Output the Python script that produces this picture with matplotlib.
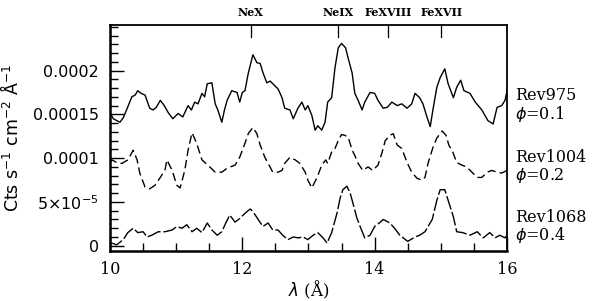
import matplotlib
matplotlib.use("Agg")
import matplotlib.pyplot as plt
from matplotlib.ticker import FixedLocator, FixedFormatter, MultipleLocator

# Rev975 (solid), units of 1e-4
rev975_x = [10.0, 10.05, 10.1, 10.15, 10.2, 10.25, 10.33, 10.38, 10.42, 10.47, 10.53, 10.6, 10.65, 10.7, 10.76,
            10.82, 10.88, 10.95, 11.03, 11.1, 11.18, 11.23, 11.28, 11.33, 11.39, 11.43, 11.47, 11.54, 11.59, 11.63,
            11.69, 11.73, 11.77, 11.84, 11.92, 11.96, 12.0, 12.04, 12.09, 12.16, 12.22, 12.27, 12.31, 12.37,
            12.42, 12.46, 12.54, 12.6, 12.64, 12.72, 12.77, 12.84, 12.9, 12.95, 12.99, 13.05, 13.1, 13.14,
            13.2, 13.25, 13.29, 13.35, 13.4, 13.45, 13.5, 13.56, 13.6, 13.66, 13.7, 13.75, 13.81, 13.85,
            13.93, 14.0, 14.05, 14.13, 14.19, 14.26, 14.34, 14.41, 14.49, 14.56, 14.61, 14.68, 14.73,
            14.79, 14.84, 14.88, 14.94, 14.99, 15.06, 15.11, 15.19, 15.24, 15.3, 15.35, 15.44, 15.52,
            15.62, 15.71, 15.79, 15.85, 15.92, 15.97, 16.0]
rev975_y = [1.52, 1.45, 1.43, 1.41, 1.46, 1.55, 1.70, 1.72, 1.77, 1.74, 1.72, 1.57, 1.55, 1.58, 1.66,
            1.60, 1.52, 1.45, 1.51, 1.47, 1.60, 1.55, 1.64, 1.62, 1.74, 1.70, 1.85, 1.86, 1.62, 1.55,
            1.41, 1.55, 1.66, 1.77, 1.75, 1.64, 1.75, 1.77, 1.97, 2.18, 2.09, 2.08, 1.98, 1.86,
            1.88, 1.85, 1.79, 1.69, 1.57, 1.55, 1.45, 1.57, 1.64, 1.55, 1.60, 1.49, 1.32, 1.37,
            1.32, 1.41, 1.64, 1.69, 2.03, 2.26, 2.31, 2.26, 2.14, 1.97, 1.74, 1.66, 1.55, 1.64,
            1.75, 1.74, 1.66, 1.57, 1.58, 1.64, 1.60, 1.62, 1.57, 1.62, 1.74, 1.69, 1.62,
            1.47, 1.36, 1.55, 1.81, 1.92, 2.02, 1.85, 1.69, 1.81, 1.89, 1.77, 1.74, 1.64,
            1.55, 1.43, 1.39, 1.58, 1.60, 1.66, 1.77]

# Rev1004 (dashed), units of 1e-4
rev1004_x = [10.0, 10.03, 10.1, 10.18, 10.27, 10.35, 10.41, 10.45, 10.53, 10.6, 10.68, 10.76, 10.83, 10.86,
             10.94, 11.01, 11.06, 11.13, 11.18, 11.24, 11.31, 11.39, 11.48, 11.59, 11.69, 11.78, 11.89,
             11.96, 12.04, 12.09, 12.16, 12.22, 12.27, 12.34, 12.39, 12.46, 12.54, 12.6, 12.64, 12.72,
             12.8, 12.87, 12.95, 12.99, 13.05, 13.13, 13.2, 13.26, 13.29, 13.35, 13.4, 13.45, 13.5,
             13.55, 13.6, 13.66, 13.7, 13.75, 13.82, 13.9, 13.97, 14.05, 14.11, 14.16, 14.23, 14.28,
             14.34, 14.41, 14.49, 14.56, 14.64, 14.71, 14.76, 14.81, 14.88, 14.94, 15.02, 15.08,
             15.12, 15.18, 15.24, 15.32, 15.39, 15.47, 15.55, 15.62, 15.7, 15.77, 15.85, 15.92, 16.0]
rev1004_y = [0.95, 0.98, 0.95, 0.94, 0.98, 1.09, 0.98, 0.83, 0.67, 0.65, 0.69, 0.78, 0.86, 0.98,
             0.86, 0.69, 0.66, 0.86, 1.09, 1.29, 1.17, 0.98, 0.92, 0.84, 0.84, 0.89, 0.92,
             1.01, 1.17, 1.28, 1.35, 1.28, 1.15, 1.01, 0.94, 0.84, 0.84, 0.86, 0.94, 1.01,
             0.98, 0.94, 0.84, 0.75, 0.66, 0.78, 0.92, 0.98, 0.94, 1.07, 1.11, 1.20, 1.27,
             1.26, 1.24, 1.09, 1.03, 0.94, 0.86, 0.90, 0.86, 0.92, 1.06, 1.20, 1.26, 1.28,
             1.15, 1.11, 0.95, 0.84, 0.77, 0.75, 0.78, 0.95, 1.12, 1.23, 1.31, 1.26,
             1.15, 1.07, 0.95, 0.92, 0.90, 0.84, 0.78, 0.78, 0.84, 0.86, 0.84, 0.83, 0.86]

# Rev1068 (long dashed), units of 1e-4
rev1068_x = [10.0, 10.03, 10.1, 10.2, 10.27, 10.35, 10.42, 10.5, 10.56, 10.63, 10.73, 10.83, 10.94, 11.01,
             11.09, 11.16, 11.24, 11.31, 11.39, 11.47, 11.54, 11.62, 11.69, 11.75, 11.81, 11.89, 11.96,
             12.04, 12.12, 12.16, 12.24, 12.31, 12.39, 12.46, 12.54, 12.61, 12.69, 12.77, 12.84, 12.92,
             12.99, 13.07, 13.14, 13.22, 13.28, 13.35, 13.43, 13.48, 13.52, 13.58, 13.63, 13.67, 13.73,
             13.78, 13.85, 13.93, 14.0, 14.07, 14.13, 14.23, 14.3, 14.38, 14.5, 14.61, 14.68, 14.76,
             14.87, 14.94, 14.99, 15.06, 15.11, 15.19, 15.24, 15.33, 15.44, 15.55, 15.64, 15.74,
             15.82, 15.89, 15.97, 16.0]
rev1068_y = [0.02, 0.03, 0.01, 0.07, 0.15, 0.20, 0.15, 0.16, 0.10, 0.12, 0.16, 0.16, 0.18, 0.22,
             0.20, 0.24, 0.16, 0.20, 0.15, 0.26, 0.18, 0.12, 0.16, 0.26, 0.35, 0.27, 0.31,
             0.37, 0.42, 0.39, 0.30, 0.22, 0.26, 0.18, 0.18, 0.12, 0.07, 0.10, 0.09, 0.10,
             0.07, 0.12, 0.15, 0.09, 0.03, 0.15, 0.37, 0.55, 0.64, 0.68, 0.60, 0.49, 0.32,
             0.22, 0.09, 0.12, 0.22, 0.26, 0.30, 0.26, 0.20, 0.12, 0.05, 0.10, 0.12, 0.16,
             0.30, 0.52, 0.64, 0.64, 0.52, 0.33, 0.16, 0.15, 0.12, 0.16, 0.09, 0.15,
             0.09, 0.12, 0.09, 0.12]

line_names = ["NeX", "NeIX", "FeXVIII", "FeXVII"]
line_pos = [12.13, 13.45, 14.2, 15.01]

x_ticks = [10, 12, 14, 16]
y_ticks = [0, 5e-5, 1e-4, 1.5e-4, 2e-4]
y_ticklabels = ["0", r"5$\times$10$^{-5}$", "0.0001", "0.00015", "0.0002"]

labels = [("Rev975", r"$\phi$=0.1", 1.6e-4),
          ("Rev1004", r"$\phi$=0.2", 0.9e-4),
          ("Rev1068", r"$\phi$=0.4", 0.21e-4)]

fig = plt.figure(figsize=(6.03, 3.01), dpi=100)
ax = fig.add_axes([0.1824, 0.1661, 0.6584, 0.7508])

sc = 1e-4
ax.plot(rev975_x, [v * sc for v in rev975_y], color="black", lw=1.0, ls="-")
ax.plot(rev1004_x, [v * sc for v in rev1004_y], color="black", lw=1.0, ls=(0, (6, 3)))
ax.plot(rev1068_x, [v * sc for v in rev1068_y], color="black", lw=1.0, ls=(0, (10, 2)))

ax.set_xlim(10, 16)
ax.set_ylim(-0.6e-5, 2.52e-4)

for s in ["left", "bottom", "top", "right"]:
    ax.spines[s].set_linewidth(1.3)
ax.spines["left"].set_linewidth(1.8)
ax.spines["bottom"].set_linewidth(1.8)

ax.xaxis.set_major_locator(FixedLocator(x_ticks))
ax.xaxis.set_minor_locator(MultipleLocator(0.5))
ax.yaxis.set_major_locator(FixedLocator(y_ticks))
ax.yaxis.set_major_formatter(FixedFormatter(y_ticklabels))
ax.yaxis.set_minor_locator(MultipleLocator(1e-5))
ax.tick_params(which="both", direction="in", top=False, right=False, color="black")
ax.tick_params(which="major", length=10, width=1.0)
ax.tick_params(which="minor", length=6, width=1.0)
ax.tick_params(axis="y", labelsize=11.5, pad=8)
ax.tick_params(axis="x", labelsize=11.5, pad=7)
for lab in ax.get_xticklabels():
    lab.set_family("DejaVu Serif")

ax.set_xlabel(r"$\lambda$ (Å)", fontsize=12, family="DejaVu Serif", labelpad=1)
ax.set_ylabel(r"Cts s$^{-1}$ cm$^{-2}$ Å$^{-1}$", fontsize=12.5, labelpad=8)

for name, pos in zip(line_names, line_pos):
    ax.plot([pos, pos], [1.0, 0.947], transform=ax.get_xaxis_transform(), color="black", lw=0.9,
            clip_on=False)
    ax.text(pos, 1.03, name, transform=ax.get_xaxis_transform(), ha="center", va="bottom",
            fontsize=8, family="DejaVu Serif", fontweight="bold")

for rev, phi, yv in labels:
    ax.text(1.02, yv, rev + "\n" + phi, transform=ax.get_yaxis_transform(), ha="left", va="center",
            fontsize=11.5, family="DejaVu Serif", linespacing=0.95)

fig.savefig("out.png", dpi=100)
